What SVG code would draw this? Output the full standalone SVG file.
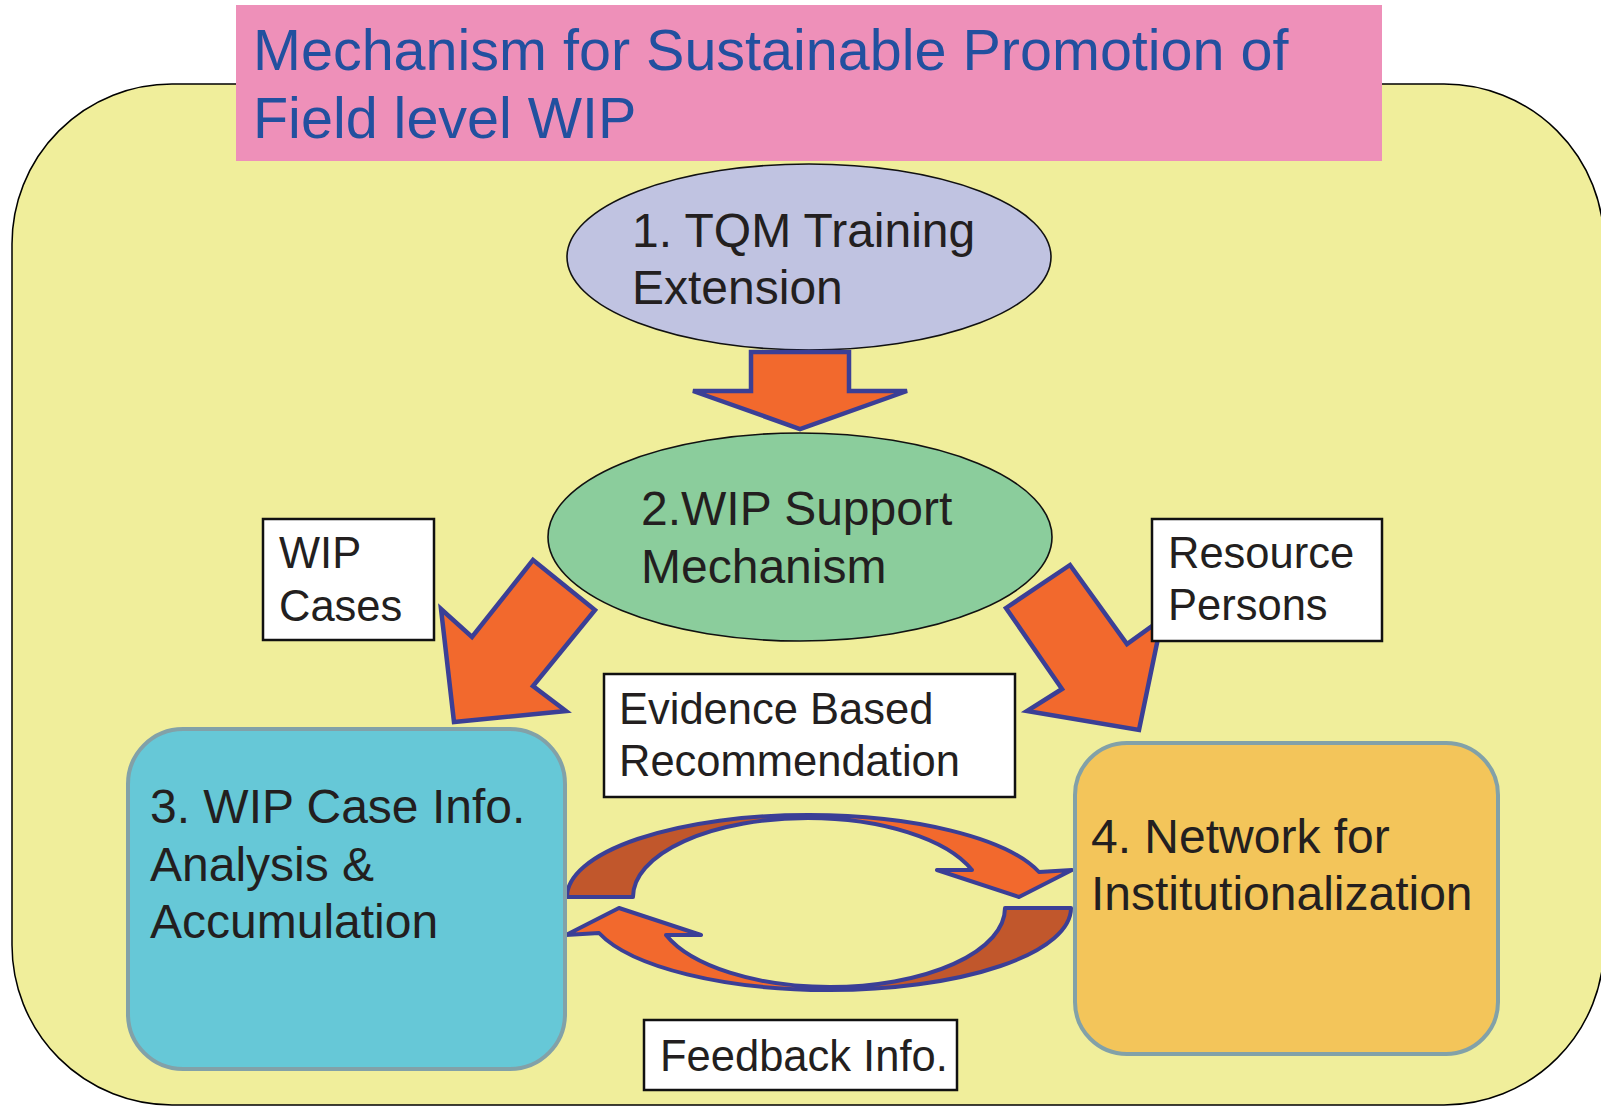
<svg xmlns="http://www.w3.org/2000/svg" width="1601" height="1107" viewBox="0 0 1601 1107">
  <style>
    text { font-family: "Liberation Sans", Arial, sans-serif; fill: #231f20; }
    .title { font-size: 57.5px; fill: #22509f; }
    .node { font-size: 48px; }
    .lbl { font-size: 43.5px; }
    .box { fill: #ffffff; stroke: #111111; stroke-width: 2.5; }
    .oval { stroke: #111111; stroke-width: 1.6; }
    .card { stroke: #82a1a8; stroke-width: 4; }
    .blk { fill: #f2692d; stroke: #3b3f96; stroke-width: 4.5; stroke-linejoin: miter; }
    .ring-lt { fill: #f2692d; stroke: #3b3f96; stroke-width: 4; stroke-linejoin: round; }
    .ring-dk { fill: #c1572c; stroke: #3b3f96; stroke-width: 4; stroke-linejoin: round; }
  </style>
  <defs>
    <!-- curved arrow running over the top, from the left card to the right card -->
    <g id="loop-arrow">
      <path class="ring-dk" d="M 567,897 A 241 82 0 0 1 808,815 L 808,818 A 175 79 0 0 0 633,897 Z"/>
      <path class="ring-lt" d="M 808,815 A 241 82 0 0 1 1039,872 L 1072,870 L 1019,897 L 937,870 L 972,870 A 175 79 0 0 0 808,818 Z"/>
    </g>
  </defs>

  <!-- background panel -->
  <rect x="12" y="84" width="1592" height="1021" rx="160" ry="160" fill="#f0ee9b" stroke="#000000" stroke-width="1.5"/>

  <!-- title banner -->
  <g id="title">
    <rect x="236" y="5" width="1146" height="156" fill="#ee90b9"/>
    <text class="title" x="253" y="70">Mechanism for Sustainable Promotion of</text>
    <text class="title" x="253" y="138">Field level WIP</text>
  </g>

  <g id="n1-tqm">
    <ellipse class="oval" cx="809" cy="257" rx="242" ry="93" fill="#c0c3e1"/>
    <text class="node" x="632" y="247">1. TQM Training</text>
    <text class="node" x="632" y="304">Extension</text>
  </g>

  <g id="n2-support">
    <ellipse class="oval" cx="800" cy="537" rx="252" ry="104" fill="#8bcd9c"/>
    <text class="node" x="641" y="525">2.WIP Support</text>
    <text class="node" x="641" y="583">Mechanism</text>
  </g>

  <!-- connectors -->
  <g id="connectors">
    <polygon class="blk" points="751,352 849,352 849,391 907,391 800,429 693,391 751,391"/>
    <polygon class="blk" points="533,560 595,610 533,686 566,711 454,722 441,609 472,637"/>
    <polygon class="blk" points="1070,565 1006,608 1062,689 1027,711 1139,730 1162,619 1127,644"/>
    <use href="#loop-arrow"/>
    <use href="#loop-arrow" transform="rotate(180 819 902.5)"/>
  </g>

  <g id="n3-analysis">
    <rect class="card" x="128" y="729" width="437" height="340" rx="55" ry="55" fill="#66c8d7"/>
    <text class="node" x="150" y="823">3. WIP Case Info.</text>
    <text class="node" x="150" y="881">Analysis &amp;</text>
    <text class="node" x="150" y="938">Accumulation</text>
  </g>

  <g id="n4-network">
    <rect class="card" x="1075" y="743" width="423" height="311" rx="52" ry="52" fill="#f3c55a"/>
    <text class="node" x="1091" y="853">4. Network for</text>
    <text class="node" x="1091" y="910">Institutionalization</text>
  </g>

  <g id="lbl-wip-cases">
    <rect class="box" x="263" y="519" width="171" height="121"/>
    <text class="lbl" x="279" y="568">WIP</text>
    <text class="lbl" x="279" y="621">Cases</text>
  </g>

  <g id="lbl-resource">
    <rect class="box" x="1152" y="519" width="230" height="122"/>
    <text class="lbl" x="1168" y="568">Resource</text>
    <text class="lbl" x="1168" y="620">Persons</text>
  </g>

  <g id="lbl-evidence">
    <rect class="box" x="604" y="674" width="411" height="123"/>
    <text class="lbl" x="619" y="724">Evidence Based</text>
    <text class="lbl" x="619" y="776">Recommendation</text>
  </g>

  <g id="lbl-feedback">
    <rect class="box" x="644" y="1020" width="313" height="70"/>
    <text class="lbl" x="660" y="1071">Feedback Info.</text>
  </g>
</svg>
